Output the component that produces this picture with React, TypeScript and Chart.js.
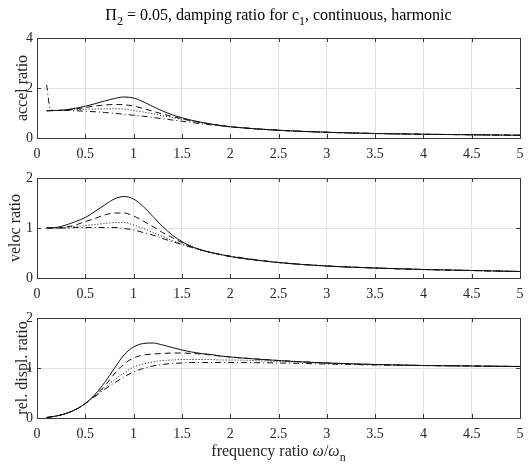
import React, { useEffect, useRef } from "react";
import { Chart, registerables } from "chart.js";

Chart.register(...registerables);

// ---------------- data ----------------
const freq = [0.1, 0.2, 0.3, 0.4, 0.5, 0.6, 0.7, 0.8, 0.9, 1.0, 1.1, 1.2, 1.3, 1.4, 1.5, 1.6, 1.7, 1.8, 1.9, 2.0, 2.5, 3.0, 3.5, 4.0, 4.5, 5.0];
const accelDashDotFreq = [0.1, 0.14, 0.2, 0.3, 0.4, 0.5, 0.6, 0.7, 0.8, 0.9, 1.0, 1.1, 1.2, 1.3, 1.4, 1.5, 1.6, 1.7, 1.8, 1.9, 2.0, 2.5, 3.0, 3.5, 4.0, 4.5, 5.0];

const accelSolid = [1.09, 1.10, 1.13, 1.19, 1.27, 1.37, 1.48, 1.58, 1.64, 1.60, 1.45, 1.26, 1.08, 0.93, 0.81, 0.71, 0.63, 0.56, 0.50, 0.45, 0.31, 0.23, 0.18, 0.15, 0.13, 0.11];
const accelDashed = [1.09, 1.10, 1.12, 1.16, 1.22, 1.28, 1.32, 1.34, 1.33, 1.28, 1.18, 1.07, 0.96, 0.86, 0.77, 0.69, 0.62, 0.56, 0.50, 0.45, 0.31, 0.23, 0.18, 0.15, 0.13, 0.11];
const accelDotted = [1.09, 1.10, 1.11, 1.13, 1.15, 1.16, 1.17, 1.17, 1.16, 1.10, 1.04, 0.97, 0.89, 0.82, 0.75, 0.68, 0.61, 0.55, 0.50, 0.45, 0.31, 0.23, 0.18, 0.15, 0.13, 0.11];
const accelDashDot = [2.13, 1.12, 1.10, 1.10, 1.09, 1.07, 1.05, 1.02, 0.99, 0.95, 0.91, 0.87, 0.82, 0.77, 0.72, 0.67, 0.62, 0.57, 0.53, 0.49, 0.45, 0.31, 0.23, 0.18, 0.15, 0.13, 0.11];

const velocSolid = [1.00, 1.01, 1.06, 1.13, 1.21, 1.33, 1.46, 1.58, 1.63, 1.58, 1.43, 1.23, 1.03, 0.86, 0.73, 0.63, 0.56, 0.51, 0.47, 0.43, 0.31, 0.24, 0.20, 0.17, 0.15, 0.13];
const velocDashed = [1.00, 1.00, 1.02, 1.06, 1.13, 1.19, 1.26, 1.30, 1.30, 1.24, 1.14, 1.03, 0.91, 0.81, 0.71, 0.63, 0.56, 0.51, 0.47, 0.43, 0.31, 0.24, 0.20, 0.17, 0.15, 0.13];
const velocDotted = [1.00, 1.00, 1.01, 1.03, 1.05, 1.07, 1.09, 1.11, 1.11, 1.06, 0.99, 0.91, 0.83, 0.75, 0.68, 0.62, 0.56, 0.51, 0.47, 0.43, 0.31, 0.24, 0.20, 0.17, 0.15, 0.13];
const velocDashDot = [1.00, 1.00, 1.00, 1.01, 1.01, 1.01, 1.01, 1.01, 0.99, 0.96, 0.91, 0.86, 0.79, 0.73, 0.67, 0.61, 0.56, 0.51, 0.47, 0.44, 0.31, 0.24, 0.20, 0.17, 0.15, 0.13];

const displSolid = [0.01, 0.04, 0.09, 0.17, 0.29, 0.47, 0.71, 0.99, 1.26, 1.42, 1.49, 1.50, 1.46, 1.41, 1.36, 1.32, 1.29, 1.27, 1.24, 1.22, 1.15, 1.10, 1.07, 1.05, 1.04, 1.03];
const displDashed = [0.01, 0.04, 0.09, 0.17, 0.29, 0.45, 0.64, 0.88, 1.08, 1.20, 1.26, 1.28, 1.29, 1.30, 1.30, 1.29, 1.28, 1.26, 1.24, 1.22, 1.15, 1.10, 1.07, 1.05, 1.04, 1.03];
const displDotted = [0.01, 0.04, 0.09, 0.17, 0.29, 0.44, 0.60, 0.76, 0.90, 1.02, 1.08, 1.12, 1.15, 1.16, 1.17, 1.17, 1.17, 1.17, 1.16, 1.16, 1.13, 1.10, 1.07, 1.05, 1.04, 1.03];
const displDashDot = [0.01, 0.04, 0.09, 0.17, 0.29, 0.43, 0.57, 0.70, 0.82, 0.92, 0.99, 1.04, 1.07, 1.09, 1.10, 1.11, 1.11, 1.11, 1.11, 1.11, 1.10, 1.08, 1.06, 1.05, 1.04, 1.03];

const xMin = 0;
const xMax = 5;
const xStep = 0.5;
const accelRange = [0, 4, 2];
const velocRange = [0, 2, 1];
const displRange = [0, 2, 1];

const yLabels = ["accel ratio", "veloc ratio", "rel. displ. ratio"];

// ---------------- layout ----------------
const W = 532;
const H = 466;
const PLOT_LEFT = 37;
const PLOT_RIGHT = 520;
const PLOT_H = 100;
const TOPS = [38, 178, 318];
const XAXIS_H = 30;
const YLABEL_X = [27, 20, 27];
const FONT = '"Liberation Serif", "Times New Roman", serif';

const DASH_SOLID: number[] = [];
const DASH_DASHED = [6, 4];
const DASH_DOTTED = [1, 2];
const DASH_DASHDOT = [6, 3, 1, 3];

type Seg = { t: string; sub?: boolean; italic?: boolean };

function drawRich(ctx: CanvasRenderingContext2D, segs: Seg[], cx: number, baseline: number, size: number, color: string) {
  const fontFor = (s: Seg) => `${s.italic ? "italic " : ""}${s.sub ? Math.round(size * 0.72) : size}px ${FONT}`;
  let total = 0;
  const widths = segs.map((s) => {
    ctx.font = fontFor(s);
    const w = ctx.measureText(s.t).width;
    total += w;
    return w;
  });
  let x = cx - total / 2;
  ctx.textAlign = "left";
  ctx.textBaseline = "alphabetic";
  ctx.fillStyle = color;
  segs.forEach((s, i) => {
    ctx.font = fontFor(s);
    ctx.fillText(s.t, x, baseline + (s.sub ? size * 0.3 : 0));
    x += widths[i];
  });
}

const titleSegs: Seg[] = [
  { t: "\u03A0" },
  { t: "2", sub: true },
  { t: " = 0.05, damping ratio for c" },
  { t: "1", sub: true },
  { t: ", continuous, harmonic" },
];
const xLabelSegs: Seg[] = [
  { t: "frequency ratio " },
  { t: "\u03C9", italic: true },
  { t: "/" },
  { t: "\u03C9", italic: true },
  { t: "n", sub: true },
];

type Series = { x: number[]; y: number[]; dash: number[] };
type Panel = { series: Series[]; range: number[]; label: string; idx: number };

const panels: Panel[] = [
  {
    idx: 0,
    label: yLabels[0],
    range: accelRange,
    series: [
      { x: freq, y: accelSolid, dash: DASH_SOLID },
      { x: freq, y: accelDashed, dash: DASH_DASHED },
      { x: freq, y: accelDotted, dash: DASH_DOTTED },
      { x: accelDashDotFreq, y: accelDashDot, dash: DASH_DASHDOT },
    ],
  },
  {
    idx: 1,
    label: yLabels[1],
    range: velocRange,
    series: [
      { x: freq, y: velocSolid, dash: DASH_SOLID },
      { x: freq, y: velocDashed, dash: DASH_DASHED },
      { x: freq, y: velocDotted, dash: DASH_DOTTED },
      { x: freq, y: velocDashDot, dash: DASH_DASHDOT },
    ],
  },
  {
    idx: 2,
    label: yLabels[2],
    range: displRange,
    series: [
      { x: freq, y: displSolid, dash: DASH_SOLID },
      { x: freq, y: displDashed, dash: DASH_DASHED },
      { x: freq, y: displDotted, dash: DASH_DOTTED },
      { x: freq, y: displDashDot, dash: DASH_DASHDOT },
    ],
  },
];

function makeConfig(p: Panel): any {
  const top = TOPS[p.idx];
  const framePlugin = {
    id: "frame" + p.idx,
    afterDraw(chart: any) {
      const ctx: CanvasRenderingContext2D = chart.ctx;
      const a = chart.chartArea;
      const xs = chart.scales.x;
      const ys = chart.scales.y;
      ctx.save();
      ctx.strokeStyle = "#3a3a3a";
      ctx.lineWidth = 1;
      ctx.setLineDash([]);
      ctx.beginPath();
      for (let v = xMin; v <= xMax + 1e-9; v += xStep) {
        const px = Math.round(xs.getPixelForValue(v)) + 0.5;
        ctx.moveTo(px, a.bottom);
        ctx.lineTo(px, a.bottom - 4);
        ctx.moveTo(px, a.top);
        ctx.lineTo(px, a.top + 4);
      }
      for (let v = p.range[0]; v <= p.range[1] + 1e-9; v += p.range[2]) {
        const py = Math.round(ys.getPixelForValue(v)) + 0.5;
        ctx.moveTo(a.left, py);
        ctx.lineTo(a.left + 4, py);
        ctx.moveTo(a.right, py);
        ctx.lineTo(a.right - 4, py);
      }
      ctx.stroke();
      ctx.strokeRect(Math.round(a.left) + 0.5, Math.round(a.top) + 0.5, Math.round(a.right - a.left), Math.round(a.bottom - a.top));

      // y label
      ctx.save();
      ctx.translate(YLABEL_X[p.idx], (a.top + a.bottom) / 2);
      ctx.rotate(-Math.PI / 2);
      ctx.font = `16px ${FONT}`;
      ctx.fillStyle = "#262626";
      ctx.textAlign = "center";
      ctx.textBaseline = "alphabetic";
      ctx.fillText(p.label, 0, 0);
      ctx.restore();

      const cx = (a.left + a.right) / 2;
      if (p.idx === 0) drawRich(ctx, titleSegs, cx, 20, 16, "#000");
      if (p.idx === 2) drawRich(ctx, xLabelSegs, cx, 456, 16, "#262626");
      ctx.restore();
    },
  };

  return {
    type: "line",
    data: {
      datasets: p.series.map((s) => ({
        data: s.x.map((x, i) => ({ x, y: s.y[i] })),
        borderColor: "#111",
        borderWidth: 1,
        borderDash: s.dash,
        pointRadius: 0,
        fill: false,
        cubicInterpolationMode: "monotone",
      })),
    },
    options: {
      responsive: false,
      animation: false,
      devicePixelRatio: 1,
      layout: {
        padding: { left: 0, right: W - PLOT_RIGHT, top: top, bottom: H - top - PLOT_H - XAXIS_H },
      },
      plugins: { legend: { display: false }, tooltip: { enabled: false }, title: { display: false } },
      scales: {
        x: {
          type: "linear",
          min: xMin,
          max: xMax,
          afterFit: (s: any) => { s.height = XAXIS_H; },
          grid: { color: "#e3e3e3", lineWidth: 1, drawTicks: false },
          border: { display: false },
          ticks: {
            stepSize: xStep,
            autoSkip: false,
            maxRotation: 0,
            padding: 8,
            color: "#262626",
            font: { family: FONT, size: 14 },
            callback: (v: any) => String(+v),
          },
        },
        y: {
          type: "linear",
          min: p.range[0],
          max: p.range[1],
          afterFit: (s: any) => { s.width = PLOT_LEFT; },
          grid: { color: "#e3e3e3", lineWidth: 1, drawTicks: false },
          border: { display: false },
          ticks: {
            stepSize: p.range[2],
            padding: 4,
            color: "#262626",
            font: { family: FONT, size: 14 },
            callback: (v: any) => String(+v),
          },
        },
      },
    },
    plugins: [framePlugin],
  };
}

function PanelChart({ panel }: { panel: Panel }) {
  const ref = useRef<HTMLCanvasElement | null>(null);
  useEffect(() => {
    if (!ref.current) return;
    const chart = new Chart(ref.current, makeConfig(panel));
    return () => chart.destroy();
  }, [panel]);
  return (
    <canvas
      ref={ref}
      width={W}
      height={H}
      style={{ position: "absolute", left: 0, top: 0, width: W, height: H }}
    />
  );
}

export default function App() {
  return (
    <div style={{ position: "absolute", left: 0, top: 0, width: W, height: H, background: "#fff" }}>
      {panels.map((p) => (
        <PanelChart key={p.idx} panel={p} />
      ))}
    </div>
  );
}
